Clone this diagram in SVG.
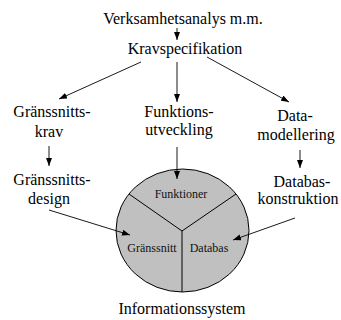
<svg xmlns="http://www.w3.org/2000/svg" width="341" height="320" viewBox="0 0 341 320">
<style>
.t{font-family:"Liberation Serif","Times New Roman",serif;font-size:16px;fill:#000;text-anchor:middle}
.s{font-family:"Liberation Serif","Times New Roman",serif;font-size:12px;fill:#111;text-anchor:middle}
.c{stroke:#000;stroke-width:0.9;fill:none;marker-end:url(#ah)}
</style>
<defs>
<marker id="ah" viewBox="0 0 8 6" refX="8" refY="3" markerWidth="8" markerHeight="6" markerUnits="userSpaceOnUse" orient="auto">
<path d="M0,0 L8,3 L0,6 Z" fill="#000"/>
</marker>
</defs>
<rect width="341" height="320" fill="#fff"/>
<g id="system">
<ellipse cx="182.5" cy="230.5" rx="66.5" ry="61.5" fill="#c0c0c0" stroke="#000" stroke-width="1"/>
<path d="M182,231 L129,194 M182,231 L236,194 M182,231 L182,292" stroke="#000" stroke-width="1" fill="none"/>
<text class="s" x="181" y="198">Funktioner</text>
<text class="s" x="152" y="252">Gränssnitt</text>
<text class="s" x="209" y="252">Databas</text>
<text class="t" x="182" y="314">Informationssystem</text>
</g>
<g id="verksamhet"><text class="t" x="183" y="24">Verksamhetsanalys m.m.</text></g>
<g id="krav"><text class="t" x="185" y="54">Kravspecifikation</text></g>
<g id="gkrav"><text class="t" x="52" y="117">Gränssnitts-</text><text class="t" x="49" y="137">krav</text></g>
<g id="gdesign"><text class="t" x="52" y="185">Gränssnitts-</text><text class="t" x="49" y="204">design</text></g>
<g id="funk"><text class="t" x="179" y="117">Funktions-</text><text class="t" x="179" y="135">utveckling</text></g>
<g id="datamod"><text class="t" x="295" y="121">Data-</text><text class="t" x="296" y="140">modellering</text></g>
<g id="dbkons"><text class="t" x="302" y="187">Databas-</text><text class="t" x="298" y="204">konstruktion</text></g>
<g id="connectors">
<line class="c" x1="177" y1="28" x2="177" y2="40"/>
<line class="c" x1="141" y1="62" x2="59" y2="99"/>
<line class="c" x1="177" y1="62" x2="177" y2="102"/>
<line class="c" x1="207" y1="57" x2="289" y2="102"/>
<line class="c" x1="49" y1="146" x2="49" y2="166"/>
<line class="c" x1="177" y1="147" x2="177" y2="179"/>
<line class="c" x1="300" y1="150" x2="300" y2="168"/>
<line class="c" x1="49" y1="210" x2="130" y2="235"/>
<line class="c" x1="295" y1="218" x2="233" y2="240"/>
</g>
</svg>
